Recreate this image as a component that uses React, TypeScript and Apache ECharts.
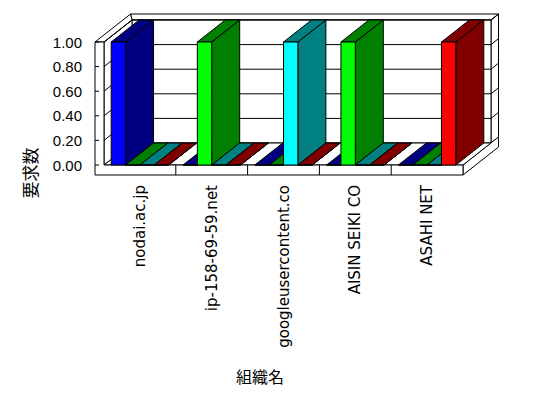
import React, { useEffect, useRef } from "react";
import * as echarts from "echarts";

// ---- data ----
const categories = [
  "nodai.ac.jp",
  "ip-158-69-59.net",
  "googleusercontent.co",
  "AISIN SEIKI CO",
  "ASAHI NET",
];
const seriesBlue = [1, 0, 0, 0, 0];
const seriesLime = [0, 1, 0, 1, 0];
const seriesCyan = [0, 0, 1, 0, 0];
const seriesRed = [0, 0, 0, 0, 1];
const yTicks = [0, 0.2, 0.4, 0.6, 0.8, 1.0];
const xAxisTitle = "組織名";
const yAxisTitle = "要求数";

const seriesDefs = [
  { name: "s1", values: seriesBlue, front: "#0000FF", dark: "#000080" },
  { name: "s2", values: seriesLime, front: "#00FF00", dark: "#008000" },
  { name: "s3", values: seriesCyan, front: "#00FFFF", dark: "#008080" },
  { name: "s4", values: seriesRed, front: "#FF0000", dark: "#800000" },
];

// ---- 3D look ----
const DX = 28; // depth offset x
const DY = 22; // depth offset y
const BX = 7.5; // back wall thickness x
const BY = 6; // back wall thickness y
const TW = 9; // left wall thickness
const FT = 10; // floor thickness

function renderFrame(params: any, api: any) {
  const cs = params.coordSys;
  const L = cs.x;
  const R = cs.x + cs.width;
  const T = cs.y;
  const B = cs.y + cs.height;
  const st = { fill: "#ffffff", stroke: "#000000", lineWidth: 1 };
  const ln = { stroke: "#000000", lineWidth: 1, fill: null };
  const children: any[] = [];
  const poly = (pts: number[][]) =>
    children.push({ type: "polygon", shape: { points: pts }, style: st });
  const line = (x1: number, y1: number, x2: number, y2: number) =>
    children.push({ type: "line", shape: { x1, y1, x2, y2 }, style: ln });

  // back wall right face
  poly([[R + DX, T - DY], [R + DX + BX, T - DY - BY], [R + DX + BX, B - DY - BY], [R + DX, B - DY]]);
  // back wall top face
  poly([[L + DX, T - DY], [R + DX, T - DY], [R + DX + BX, T - DY - BY], [L - TW + DX + BX, T - DY - BY]]);
  // back wall front face
  poly([[L + DX, T - DY], [R + DX, T - DY], [R + DX, B - DY], [L + DX, B - DY]]);
  // left wall inner face
  poly([[L, T], [L + DX, T - DY], [L + DX, B - DY], [L, B]]);
  // left wall top
  poly([[L - TW, T], [L, T], [L + DX, T - DY], [L - TW + DX + BX, T - DY - BY]]);
  // floor right face
  poly([[R, B], [R + DX + BX, B - DY - BY], [R + DX + BX, B - DY - BY + FT], [R, B + FT]]);
  // floor top
  poly([[L, B], [R, B], [R + DX, B - DY], [L + DX, B - DY]]);
  // left wall front + floor front
  poly([[L - TW, T], [L, T], [L, B], [R, B], [R, B + FT], [L - TW, B + FT]]);

  for (const v of yTicks) {
    const y = api.coord([0, v])[1];
    if (v > 0) {
      line(L, y, L + DX, y - DY);
      line(L + DX, y - DY, R + DX, y - DY);
      line(R + DX, y - DY, R + DX + BX, y - DY - BY);
    }
    line(L - TW, y, L - TW + 4, y);
  }
  const band = api.size([1, 0])[0];
  for (let i = 1; i < categories.length; i++) {
    const x = L + i * band;
    line(x, B, x, B + FT);
  }
  return { type: "group", children };
}

function makeBarRender(sIdx: number, front: string, dark: string) {
  return (params: any, api: any) => {
    const cat = api.value(0);
    const v = api.value(1);
    const base = api.coord([cat, 0]);
    const top = api.coord([cat, v]);
    const band = api.size([1, 0])[0];
    const w = band / 5;
    const x0 = base[0] - 2 * w + sIdx * w;
    const x1 = x0 + w;
    const yb = base[1];
    const yt = top[1];
    const s = (fill: string) => ({ fill, stroke: "#000000", lineWidth: 1 });
    return {
      type: "group",
      children: [
        {
          type: "polygon",
          shape: { points: [[x1, yb], [x1, yt], [x1 + DX, yt - DY], [x1 + DX, yb - DY]] },
          style: s(dark),
        },
        {
          type: "polygon",
          shape: { points: [[x0, yt], [x1, yt], [x1 + DX, yt - DY], [x0 + DX, yt - DY]] },
          style: s(dark),
        },
        {
          type: "rect",
          shape: { x: x0, y: yt, width: w, height: Math.max(0, yb - yt) },
          style: s(front),
        },
      ],
    };
  };
}

export default function App() {
  const ref = useRef<HTMLDivElement>(null);
  useEffect(() => {
    if (!ref.current) return;
    const chart = echarts.init(ref.current, undefined, { renderer: "svg" });
    const option: any = {
      animation: false,
      backgroundColor: "#ffffff",
      grid: { left: 104, top: 42, width: 359, height: 123, containLabel: false },
      xAxis: {
        type: "category",
        data: categories,
        boundaryGap: true,
        axisLine: { show: false },
        axisTick: { show: false },
        splitLine: { show: false },
        axisLabel: {
          interval: 0,
          rotate: 90,
          margin: 20,
          color: "#000000",
          fontSize: 15,
          fontFamily: "DejaVu Sans",
        },
      },
      yAxis: {
        type: "value",
        min: 0,
        max: 1,
        interval: 0.2,
        axisLine: { show: false },
        axisTick: { show: false },
        splitLine: { show: false },
        axisLabel: {
          margin: 22,
          color: "#000000",
          fontSize: 15,
          fontFamily: "Liberation Sans",
          formatter: (v: number) => v.toFixed(2),
        },
      },
      graphic: [
        {
          type: "text",
          x: 260,
          y: 376,
          style: {
            text: xAxisTitle,
            font: '16px "Noto Sans CJK JP"',
            fill: "#000000",
            align: "center",
            verticalAlign: "middle",
          },
        },
        {
          type: "text",
          x: 29,
          y: 173,
          rotation: Math.PI / 2,
          style: {
            text: yAxisTitle,
            font: '17px "Noto Sans CJK JP"',
            fill: "#000000",
            align: "center",
            verticalAlign: "middle",
          },
        },
      ],
      series: [
        {
          type: "custom",
          name: "frame",
          clip: false,
          silent: true,
          renderItem: renderFrame,
          data: [[0, 0]],
        },
        ...seriesDefs.map((s, idx) => ({
          type: "custom",
          name: s.name,
          clip: false,
          renderItem: makeBarRender(idx, s.front, s.dark),
          data: s.values.map((v, i) => [i, v]),
        })),
      ],
    };
    chart.setOption(option);
    return () => chart.dispose();
  }, []);
  return (
    <div
      ref={ref}
      style={{ position: "fixed", left: 0, top: 0, width: 548, height: 398, background: "#fff" }}
    />
  );
}
